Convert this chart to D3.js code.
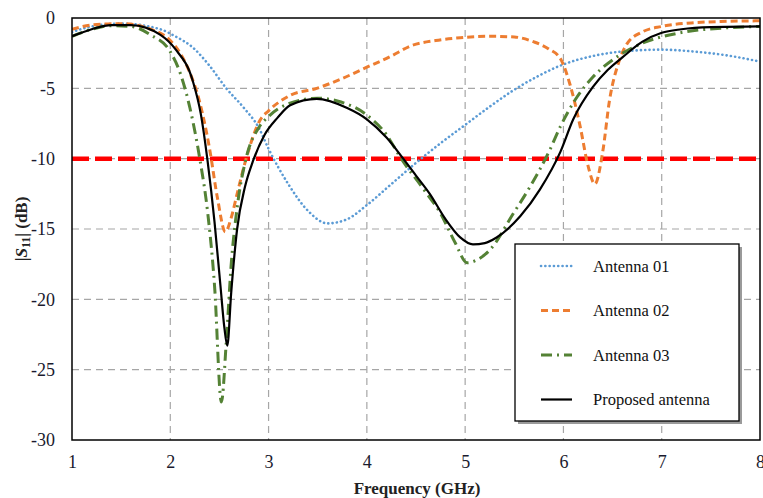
<!DOCTYPE html>
<html>
<head>
<meta charset="utf-8">
<script src="https://cdn.jsdelivr.net/npm/d3@7"></script>
<style>
  body { margin: 0; background: #fff; }
  text { font-family: "Liberation Serif", "DejaVu Serif", serif; }
</style>
</head>
<body>
<svg id="chart" width="763" height="498"></svg>
<script>
// tick values
const xTicks = [1, 2, 3, 4, 5, 6, 7, 8];
const yTicks = [0, -5, -10, -15, -20, -25, -30];
const threshold = -10;

// Antenna 01
const freq01 = [1.0, 1.2, 1.5, 1.9, 2.05, 2.23, 2.4, 2.57, 2.75, 2.9, 3.0, 3.2, 3.4, 3.6, 3.8, 4.0, 4.25, 4.5, 4.75, 5.0, 5.25, 5.5, 5.75, 6.0, 6.3, 6.65, 7.0, 7.35, 7.7, 8.0];
const s11_01 = [-1.0, -0.6, -0.4, -0.8, -1.3, -2.1, -3.4, -5.0, -6.4, -7.8, -9.3, -11.8, -13.7, -14.6, -14.3, -13.3, -11.8, -10.3, -8.9, -7.6, -6.3, -5.1, -4.1, -3.3, -2.7, -2.35, -2.25, -2.4, -2.7, -3.1];

// Antenna 02
const freq02 = [1.0, 1.2, 1.5, 1.8, 2.0, 2.1, 2.2, 2.3, 2.4, 2.48, 2.56, 2.62, 2.68, 2.78, 2.91, 3.0, 3.22, 3.49, 3.75, 4.0, 4.25, 4.44, 4.7, 4.95, 5.25, 5.5, 5.7, 5.85, 5.97, 6.07, 6.17, 6.25, 6.32, 6.4, 6.47, 6.56, 6.65, 6.8, 7.0, 7.3, 7.6, 8.0];
const s11_02 = [-0.8, -0.5, -0.4, -0.8, -1.6, -2.5, -3.9, -6.0, -9.3, -12.8, -15.2, -14.2, -12.5, -9.8, -7.3, -6.6, -5.5, -5.0, -4.3, -3.5, -2.7, -2.0, -1.6, -1.4, -1.3, -1.35, -1.7, -2.2, -2.9, -4.8, -7.7, -10.5, -11.8, -9.5, -5.8, -3.2, -1.8, -1.0, -0.6, -0.35, -0.25, -0.2];

// Antenna 03
const freq03 = [1.0, 1.2, 1.4, 1.6, 1.8, 2.0, 2.1, 2.2, 2.3, 2.38, 2.45, 2.52, 2.57, 2.62, 2.68, 2.77, 2.9, 3.0, 3.2, 3.5, 3.7, 4.0, 4.2, 4.34, 4.58, 4.75, 4.9, 5.02, 5.12, 5.25, 5.49, 5.66, 5.86, 5.97, 6.14, 6.3, 6.58, 6.8, 7.15, 7.66, 8.0];
const s11_03 = [-1.3, -0.8, -0.55, -0.6, -1.2, -2.4, -3.9, -6.4, -10.0, -13.8, -19.0, -27.3, -23.0, -17.5, -13.5, -10.0, -7.8, -7.0, -6.1, -5.7, -5.9, -6.9, -8.3, -9.9, -12.2, -13.9, -16.0, -17.4, -17.2, -16.5, -13.9, -12.0, -9.4, -7.7, -5.6, -4.2, -2.6, -1.8, -1.1, -0.7, -0.6];

// Proposed antenna
const freqP = [1.0, 1.2, 1.4, 1.6, 1.9, 2.05, 2.23, 2.31, 2.38, 2.45, 2.51, 2.55, 2.58, 2.62, 2.68, 2.76, 2.84, 2.96, 3.09, 3.22, 3.49, 3.8, 4.0, 4.2, 4.37, 4.5, 4.64, 4.8, 4.95, 5.08, 5.2, 5.32, 5.56, 5.76, 5.97, 6.1, 6.3, 6.45, 6.6, 6.8, 7.0, 7.2, 7.5, 8.0];
const s11P = [-1.3, -0.8, -0.5, -0.5, -1.2, -2.2, -4.5, -6.8, -10.2, -14.5, -19.0, -22.0, -23.3, -19.5, -15.0, -12.0, -10.2, -8.3, -7.1, -6.2, -5.75, -6.4, -7.2, -8.5, -10.0, -11.2, -12.5, -14.3, -15.6, -16.1, -16.0, -15.6, -14.1, -12.2, -9.5, -7.2, -4.9, -3.7, -2.8, -1.7, -1.05, -0.8, -0.65, -0.6];

const series = [
  { name: 'Antenna 01', f: freq01, v: s11_01, color: '#5b9bd5', width: 2.6, dash: '0.1 4.2', cap: 'round' },
  { name: 'Antenna 02', f: freq02, v: s11_02, color: '#ed7d31', width: 3, dash: '7 4', cap: 'butt' },
  { name: 'Antenna 03', f: freq03, v: s11_03, color: '#548235', width: 3, dash: '11 5 2 5', cap: 'butt' },
  { name: 'Proposed antenna', f: freqP, v: s11P, color: '#000000', width: 2.2, dash: null, cap: 'butt' }
];

const svg = d3.select('#chart');
const mLeft = 72, mRight = 760, mTop = 18, mBottom = 440;

const x = d3.scaleLinear().domain([1, 8]).range([mLeft, mRight]);
const y = d3.scaleLinear().domain([0, -30]).range([mTop, mBottom]);

// grid
svg.append('g').selectAll('line')
  .data(xTicks.slice(1, -1))
  .join('line')
    .attr('x1', d => x(d)).attr('x2', d => x(d))
    .attr('y1', mTop).attr('y2', mBottom)
    .attr('stroke', '#a6a6a6').attr('stroke-width', 1.2)
    .attr('stroke-dasharray', '7 5');
svg.append('g').selectAll('line')
  .data(yTicks.slice(1, -1))
  .join('line')
    .attr('x1', mLeft).attr('x2', mRight)
    .attr('y1', d => y(d)).attr('y2', d => y(d))
    .attr('stroke', '#a6a6a6').attr('stroke-width', 1.2)
    .attr('stroke-dasharray', '7 5');

// axes (labels only, frame drawn separately)
const xAxis = d3.axisBottom(x).tickValues(xTicks).tickSize(0).tickPadding(15).tickFormat(d3.format('d'));
const yAxis = d3.axisLeft(y).tickValues(yTicks).tickSize(0).tickPadding(17).tickFormat(d => d);
const gx = svg.append('g').attr('transform', `translate(0,${mBottom})`).call(xAxis);
const gy = svg.append('g').attr('transform', `translate(${mLeft},0)`).call(yAxis);
[gx, gy].forEach(g => {
  g.select('.domain').remove();
  g.selectAll('text')
    .style('font-family', '"Liberation Serif", serif')
    .style('font-size', '18px')
    .attr('fill', '#1a1a2e');
});

// clip
svg.append('clipPath').attr('id', 'clip')
  .append('rect').attr('x', mLeft).attr('y', mTop).attr('width', mRight - mLeft).attr('height', mBottom - mTop);

const plot = svg.append('g').attr('clip-path', 'url(#clip)');

// -10 dB threshold
plot.append('line')
  .attr('x1', x(1)).attr('x2', x(8))
  .attr('y1', y(threshold)).attr('y2', y(threshold))
  .attr('stroke', '#ff0000').attr('stroke-width', 4.5)
  .attr('stroke-dasharray', '17 6');

const line = d3.line()
  .x(d => x(d[0]))
  .y(d => y(d[1]))
  .curve(d3.curveMonotoneX);

plot.selectAll('.curve')
  .data(series)
  .join('path')
    .attr('class', 'curve')
    .attr('d', s => line(s.f.map((f, i) => [f, s.v[i]])))
    .attr('fill', 'none')
    .attr('stroke', s => s.color)
    .attr('stroke-width', s => s.width)
    .attr('stroke-linecap', s => s.cap)
    .attr('stroke-dasharray', s => s.dash);

// frame
svg.append('rect')
  .attr('x', mLeft).attr('y', mTop).attr('width', mRight - mLeft).attr('height', mBottom - mTop)
  .attr('fill', 'none').attr('stroke', '#000').attr('stroke-width', 1.5);

// legend
const lg = svg.append('g').attr('transform', 'translate(515,244)');
lg.append('rect').attr('x', 3).attr('y', 3).attr('width', 224).attr('height', 177).attr('fill', '#9a9a9a');
lg.append('rect').attr('width', 224).attr('height', 177).attr('fill', '#fff').attr('stroke', '#000').attr('stroke-width', 1.3);
const items = lg.selectAll('.item')
  .data(series)
  .join('g')
    .attr('class', 'item')
    .attr('transform', (d, i) => `translate(0,${22 + i * 44.5})`);
items.append('line')
  .attr('x1', 26).attr('x2', 57)
  .attr('stroke', s => s.color)
  .attr('stroke-width', s => s.width)
  .attr('stroke-linecap', s => s.cap)
  .attr('stroke-dasharray', s => s.dash);
items.append('text')
  .attr('x', 78).attr('dy', '0.35em')
  .style('font-size', '16.5px')
  .attr('fill', '#111')
  .text(s => s.name);

// axis titles
svg.append('text')
  .attr('x', (mLeft + mRight) / 2 + 1).attr('y', 494)
  .attr('text-anchor', 'middle')
  .style('font-size', '17px').style('font-weight', 'bold')
  .attr('fill', '#222')
  .text('Frequency (GHz)');

const yl = svg.append('text')
  .attr('transform', `translate(27,${(mTop + mBottom) / 2}) rotate(-90)`)
  .attr('text-anchor', 'middle')
  .style('font-size', '17px').style('font-weight', 'bold')
  .attr('fill', '#222');
yl.append('tspan').text('|');
yl.append('tspan').style('font-style', 'italic').text('S');
yl.append('tspan').attr('dy', 3).style('font-size', '12px').text('11');
yl.append('tspan').attr('dy', -3).text('| (dB)');
</script>
</body>
</html>
